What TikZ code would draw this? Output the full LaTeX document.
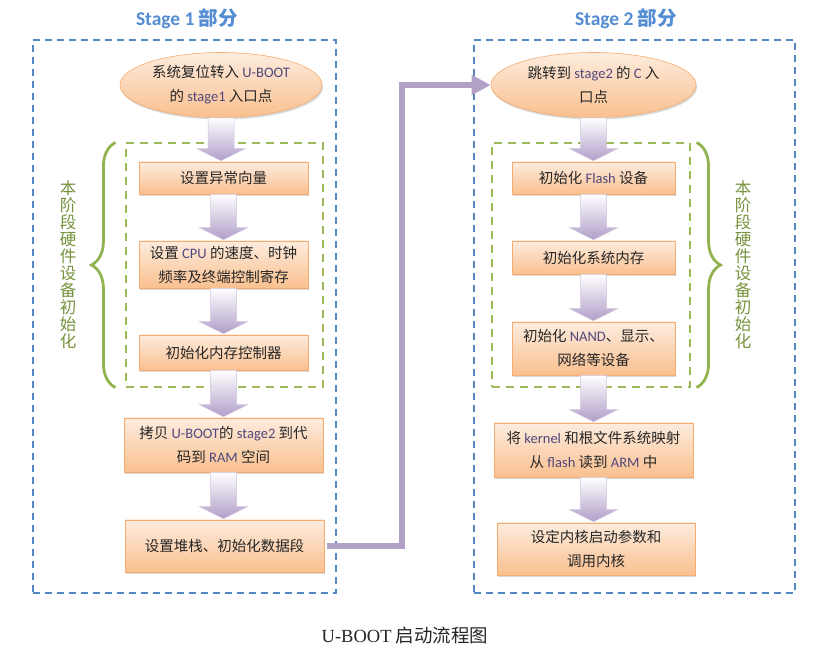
\documentclass[tikz,border=0pt]{standalone}
\usepackage{fontspec}
\setmainfont{Carlito}
\newfontfamily\cjk{Noto Sans CJK SC}
\newfontfamily\latf{Carlito}
\newfontfamily\seriff{Liberation Serif}
\usetikzlibrary{shapes.geometric,shadows,calc,arrows.meta,decorations.pathreplacing}
\definecolor{bluedash}{RGB}{85,135,195}
\definecolor{greendash}{RGB}{155,187,89}
\definecolor{bracegreen}{RGB}{146,180,80}
\definecolor{labgreen}{RGB}{119,147,60}
\definecolor{titleblue}{RGB}{84,141,212}
\definecolor{boxtop}{RGB}{253,236,222}
\definecolor{boxbot}{RGB}{250,192,143}
\definecolor{boxline}{RGB}{246,172,112}
\definecolor{apurple}{RGB}{176,158,200}
\definecolor{lpurple}{RGB}{178,161,199}
\definecolor{latcol}{RGB}{80,72,125}
\newcommand\lat[1]{{\latf\color{latcol}#1}}
\tikzset{
  proc/.style={draw=boxline, line width=0.6pt, top color=boxtop, bottom color=boxbot,
    font=\cjk\fontsize{14.5}{24}\selectfont, text=black!85, align=center, inner sep=0pt,
    drop shadow={shadow xshift=1pt, shadow yshift=-2pt, opacity=0.25, fill=black!60}},
  entry/.style={proc, ellipse},
  outerbox/.style={draw=bluedash, line width=1.1pt, dash pattern=on 7pt off 5pt, inner sep=0pt},
  hwbox/.style={draw=greendash, line width=1.1pt, dash pattern=on 8pt off 6pt, inner sep=0pt},
  hwbrace/.style={draw=bracegreen, line width=2.8pt, decorate, decoration={brace, amplitude=24pt}},
  vlabel/.style={font=\cjk\fontsize{16.5}{17}\selectfont, text=labgreen, align=center, inner sep=0pt},
  title/.style={font=\bfseries\fontsize{19.5}{22}\selectfont, text=titleblue, inner sep=0pt},
  blockarrow/.style={top color=white, bottom color=apurple, draw=apurple!60, line width=0.5pt},
  link/.style={draw=lpurple, line width=6pt, -{Triangle[width=19pt,length=19pt]}}
}
\newcommand\flowarrow[2]{%
  \path[blockarrow] let \p1=(#1.south), \p2=(#2.north) in
    (\x1-13pt,\y1) -- (\x1+13pt,\y1) -- (\x1+13pt,\y2+13pt) -- (\x1+24pt,\y2+13pt)
    -- (\x1,\y2+1pt) -- (\x1-24pt,\y2+13pt) -- (\x1-13pt,\y2+13pt) -- cycle;}
\begin{document}
\begin{tikzpicture}[x=1pt,y=1pt]
\useasboundingbox (0,0) rectangle (831,657);
\fill[white] (0,0) rectangle (831,657);

% titles
\node[title] (t1) at (187,638) {Stage 1 {\cjk 部分}};
\node[title] (t2) at (626,638) {Stage 2 {\cjk 部分}};

% outer boxes
\node[outerbox, minimum width=303pt, minimum height=553pt] (s1) at (184.5,340.5) {};
\node[outerbox, minimum width=321pt, minimum height=553pt] (s2) at (634.5,340.5) {};

% hardware init boxes
\node[hwbox, minimum width=197pt, minimum height=244pt] (g1) at (224.5,392) {};
\node[hwbox, minimum width=198pt, minimum height=244pt] (g2) at (591,392) {};

% braces
\draw[hwbrace] ([xshift=-10pt]g1.south west) -- ([xshift=-10pt]g1.north west);
\draw[hwbrace] ([xshift=6pt]g2.north east) -- ([xshift=6pt]g2.south east);
\node[vlabel] (v1) at (68,392) {本\\阶\\段\\硬\\件\\设\\备\\初\\始\\化};
\node[vlabel] (v2) at (743,392) {本\\阶\\段\\硬\\件\\设\\备\\初\\始\\化};

% stage 1
\node[entry, minimum width=202pt, minimum height=65pt] (e1) at (221,572)
  {系统复位转入 \lat{U-BOOT}\\的 \lat{stage1} 入口点};
\node[proc, minimum width=169pt, minimum height=32pt] (b1) at (223.5,479) {设置异常向量};
\node[proc, minimum width=169pt, minimum height=47pt] (b2) at (223.5,392.5)
  {设置 \lat{CPU} 的速度、时钟\\频率及终端控制寄存};
\node[proc, minimum width=169pt, minimum height=35pt] (b3) at (223.5,304.5) {初始化内存控制器};
\node[proc, minimum width=199pt, minimum height=54pt] (b4) at (223.5,212)
  {拷贝 \lat{U-BOOT}的 \lat{stage2} 到代\\码到 \lat{RAM} 空间};
\node[proc, minimum width=199pt, minimum height=52pt] (b5) at (224.5,111) {设置堆栈、初始化数据段};

% stage 2
\node[entry, minimum width=205pt, minimum height=65pt] (e2) at (593.5,572)
  {跳转到 \lat{stage2} 的 \lat{C} 入\\口点};
\node[proc, minimum width=163pt, minimum height=32pt] (r1) at (593.5,479) {初始化 \lat{Flash} 设备};
\node[proc, minimum width=163pt, minimum height=33pt] (r2) at (593.5,399.5) {初始化系统内存};
\node[proc, minimum width=163pt, minimum height=53pt] (r3) at (593.5,308.5)
  {初始化 \lat{NAND}、显示、\\网络等设备};
\node[proc, minimum width=199pt, minimum height=54pt] (r4) at (593.5,207)
  {将 \lat{kernel} 和根文件系统映射\\从 \lat{flash} 读到 \lat{ARM} 中};
\node[proc, minimum width=198pt, minimum height=52pt] (r5) at (596,108)
  {设定内核启动参数和\\调用内核};

% block arrows
\flowarrow{e1}{b1}
\flowarrow{b1}{b2}
\flowarrow{b2}{b3}
\flowarrow{b3}{b4}
\flowarrow{b4}{b5}
\flowarrow{e2}{r1}
\flowarrow{r1}{r2}
\flowarrow{r2}{r3}
\flowarrow{r3}{r4}
\flowarrow{r4}{r5}

% link between stages
\coordinate (bend) at (402,572);
\draw[link] ([xshift=3pt]b5.east) -| (bend) -- (e2.west);

% caption
\node[font=\fontsize{18.5}{22}\selectfont, text=black!85] (cap) at (405,22)
  {{\seriff U-BOOT} {\cjk 启动流程图}};
\end{tikzpicture}
\end{document}
